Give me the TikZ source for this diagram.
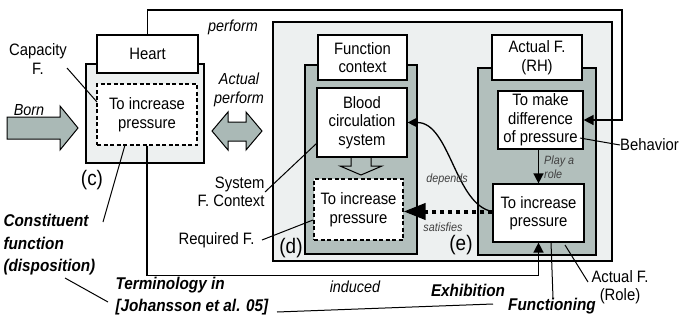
\documentclass[tikz,border=0pt]{standalone}
\usepackage{fontspec}
\setmainfont{Liberation Sans}[FakeStretch=0.9]
\usetikzlibrary{arrows.meta,calc}
\definecolor{paleback}{RGB}{237,240,240}
\definecolor{slate}{RGB}{178,191,188}
\definecolor{arrowfill}{RGB}{170,185,182}
\begin{document}
\begin{tikzpicture}[x=1pt,y=-1pt,
  font=\fontsize{16.5}{18.5}\selectfont,
  box/.style={draw, line width=1.2pt, fill=white, align=center, inner sep=0pt},
  dbox/.style={box, dash pattern=on 4pt off 2.5pt},
  panel/.style={draw, line width=1.2pt, inner sep=0pt},
  conn/.style={line width=1.5pt},
  tip/.style={-{Triangle[length=10pt,width=10pt]}},
  lead/.style={line width=1pt},
  lbl/.style={font=\fontsize{17}{22.5}\selectfont\bfseries\itshape, align=left},
  note/.style={font=\fontsize{16}{19}\selectfont\itshape, align=center},
  small/.style={font=\fontsize{12}{14}\selectfont\itshape, text=black!75, align=left},
  tag/.style={font=\fontsize{21}{22}\selectfont}]
\useasboundingbox (0,0) rectangle (680,325);

% frame of the functional context
\node[panel, fill=paleback, minimum width=339, minimum height=239] (world) at (442.5,141.5) {};

% (c) the heart and its capacity
\node[panel, fill=paleback, minimum width=118, minimum height=99] (cpanel) at (145,113.5) {};
\node[box, minimum width=101, minimum height=38] (heart) at (147.5,54) {Heart};
\node[dbox, minimum width=100, minimum height=61] (cinc) at (147,114.5) {To increase\\pressure};

% (d) function context
\node[panel, fill=slate, minimum width=112, minimum height=189] (dpanel) at (361,159.5) {};
\node[box, minimum width=89, minimum height=45] (fc) at (362.5,57.5) {Function\\context};
\node[box, minimum width=90, minimum height=69] (blood) at (362,122.5) {Blood\\circulation\\system};
\node[dbox, minimum width=89, minimum height=61] (dinc) at (358.5,209.5) {To increase\\pressure};

% (e) actual function
\node[panel, fill=slate, minimum width=118, minimum height=187] (epanel) at (537,161.5) {};
\node[box, minimum width=90, minimum height=45] (arh) at (537,57.5) {Actual F.\\(RH)};
\node[box, minimum width=85, minimum height=58] (diff) at (540.5,120) {To make\\difference\\of pressure};
\node[box, minimum width=91, minimum height=58] (einc) at (538.5,213) {To increase\\pressure};

% block arrows
\draw[line width=1pt, fill=arrowfill] (7,117) -- (60,117) -- (60,106) -- (78,128)
  -- (60,150) -- (60,139) -- (7,139) -- cycle;
\draw[line width=1pt, fill=arrowfill] (212,131) -- (228,112) -- (228,122) -- (246,122)
  -- (246,112) -- (262,131) -- (246,150) -- (246,141) -- (228,141) -- (228,150) -- cycle;
\draw[line width=1pt] (351,157) -- (351,166) -- (340,166) -- (361,175) -- (382,166)
  -- (371,166) -- (371,157);

% connectors
\draw[conn, tip] (heart.north) |- (622,10) |- (diff.east);
\draw[conn, tip] (cinc.south) |- ($(einc.south)+(0,33)$) -- (einc.south);
\draw[conn, tip] (einc.north |- diff.south) -- (einc.north);
\coordinate (sat) at ($(einc.west)+(0,-1.5)$);
\draw[line width=4pt, dash pattern=on 4pt off 4pt,
  -{Triangle[length=22pt,width=16pt]}] (sat) -- (sat -| dinc.east);
\draw[line width=1.3pt, tip] (sat) .. controls (455,205) and (450,122.5) .. (blood.east);

% texts
\node[note] (perf) at (233,27) {perform};
\node[note] (aperf) at (239,90) {Actual\\perform};
\node[note] (born) at (29,110) {Born};
\node[align=center] (capf) at (38,59) {Capacity\\F.};
\node[tag] (tc) at (92,180) {(c)};
\node[tag] (td) at (291,248) {(d)};
\node[tag] (te) at (461,245) {(e)};
\node[align=right, anchor=east] (sysf) at (268,192) {System\\F. Context};
\node[anchor=east] (reqf) at (258,240) {Required F.};
\node[lbl, anchor=west] (const) at (0,245) {Constituent\\function\\(disposition)};
\node[lbl, anchor=west] (term) at (112,296) {Terminology in\\{[}Johansson et al. 05{]}};
\node[note] (ind) at (355,287) {induced};
\node[lbl] (exh) at (468,290) {Exhibition};
\node[lbl] (func) at (552,306) {Functioning};
\node[align=center] (role) at (620,287) {Actual F.\\(Role)};
\node[anchor=west, inner sep=0pt] (beh) at (620,145) {Behavior};
\node[small, anchor=west, inner sep=0pt] (play) at (544,167) {Play a\\role};
\node[small] (dep) at (447,179) {depends};
\node[small] (sats) at (443,227) {satisfies};

% leader lines
\draw[lead] (67,68) -- (97,102);
\draw[lead] (103,222) -- (125,145);
\draw[lead] (65,278) -- (108,302);
\draw[lead] (277,312) -- (493,304);
\draw[lead] (265,192) -- (317,143);
\draw[lead] (262,240) -- (313,220);
\draw[lead] (580,138) -- (beh.west);
\draw[lead] (553,298) -- (551,242);
\draw[lead] (565,245) -- (588,282);
\end{tikzpicture}
\end{document}
